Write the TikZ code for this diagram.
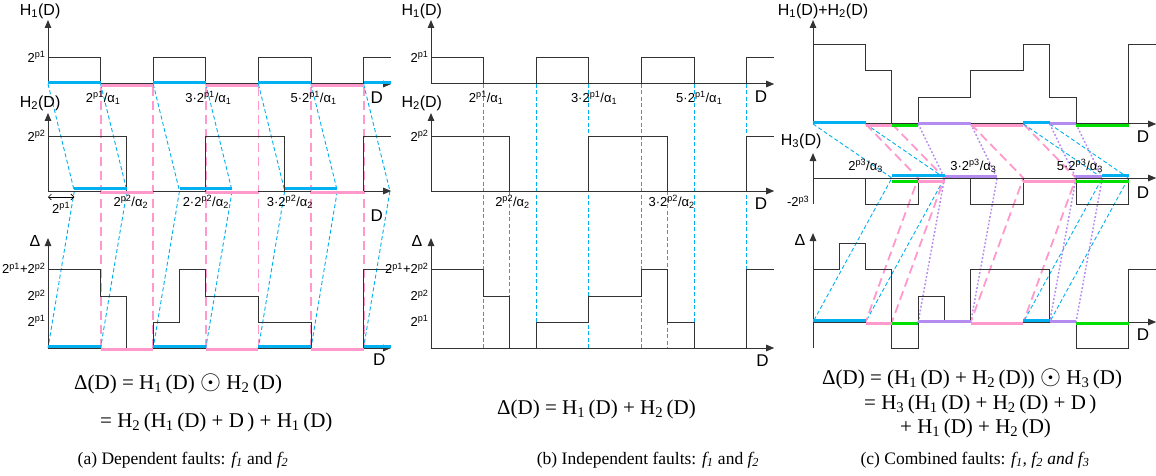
\documentclass[tikz,border=0pt]{standalone}
\usepackage{fontspec}
\setmainfont{Liberation Serif}
\newfontfamily\plotfont{Liberation Sans}
\usepackage{tikz}
\usetikzlibrary{arrows.meta}
\definecolor{cyanseg}{HTML}{00B0F0}
\definecolor{pinkseg}{HTML}{FF99CC}
\definecolor{greenseg}{HTML}{00E000}
\definecolor{purpseg}{HTML}{B48CF0}
\definecolor{inkline}{HTML}{333333}
\newcommand{\Hsub}[1]{H\textsubscript{#1}}
\newcommand{\dotop}{\scalebox{1.3}{$\odot$}}
\tikzset{
  axisline/.style={inkline, line width=1pt, -{Triangle[length=8pt,width=6.5pt]}},
  wave/.style={inkline, line width=1pt},
  segcy/.style={cyanseg, line width=3pt, yshift=1.5pt},
  segpk/.style={pinkseg, line width=3pt, yshift=-1.5pt},
  seggr/.style={greenseg, line width=3pt, yshift=-1.5pt},
  segpp/.style={purpseg, line width=3pt, yshift=0.5pt},
  cydash/.style={cyanseg, line width=0.9pt, dash pattern=on 4pt off 2.5pt},
  pkdash/.style={pinkseg, line width=1.8pt, dash pattern=on 9pt off 5pt},
  ppdot/.style={purpseg, line width=1.5pt, dash pattern=on 1.8pt off 2pt},
  nolink/.style={draw=none},
  axname/.style={font=\plotfont\fontsize{16}{16}\selectfont},
  dname/.style={font=\plotfont\fontsize{17}{17}\selectfont},
  ticklbl/.style={font=\plotfont\fontsize{13}{13}\selectfont, anchor=east, inner sep=1pt},
  steplbl/.style={font=\plotfont\fontsize{13}{13}\selectfont, inner sep=1pt},
  eqn/.style={font=\fontsize{21}{21}\selectfont, anchor=west, inner sep=0pt},
  capt/.style={font=\fontsize{17.5}{17.5}\selectfont, inner sep=0pt}
}
\begin{document}
\begin{tikzpicture}[x=1pt, y=-1pt]
\useasboundingbox (0,0) rectangle (1156,476);

% (a) dependent faults
\begin{scope}[shift={(48,0)}, x=26.3pt]
  \foreach \a in {2,4,...,12} \draw[pkdash] (\a,87) -- (\a,348);
  \foreach \a in {0,2,...,12} \draw[cydash] (\a,84) -- (\a+1,191) -- (\a,348);
  \foreach \b/\t in {84/20,191/113,348/238} {
    \draw[axisline] (0,\b) -- (0,\t);
    \draw[axisline] (0,\b) -- (13.05,\b);
  }
  \foreach \a in {0,4,8} \draw[wave] (\a,84) |- (\a+2,58) -- (\a+2,84);
  \draw[wave] (12,84) |- (13.05,58);
  \foreach \a in {0,6} \draw[wave] (\a,191) |- (\a+3,137) -- (\a+3,191);
  \draw[wave] (12,191) |- (13.05,137);
  \draw[wave] (0,269) -- (2,269) -- (2,296) -- (3,296) -- (3,348) -- (4,348) -- (4,322) -- (5,322)
    -- (5,269) -- (6,269) -- (6,296) -- (8,296) -- (8,322) -- (10,322) -- (10,348) -- (12,348)
    -- (12,269) -- (13.05,269);
  \foreach \a in {0,4,8} {
    \draw[segcy] (\a,84) -- (\a+2,84);
    \draw[segcy] (\a,348) -- (\a+2,348);
    \draw[segpk] (\a+2,84) -- (\a+4,84);
    \draw[segpk] (\a+2,348) -- (\a+4,348);
  }
  \draw[segcy] (12,84) -- (13.05,84);
  \draw[segcy] (12,348) -- (13.05,348);
  \foreach \a in {1,5,9} \draw[segcy] (\a,190) -- (\a+2,190);
  \foreach \a in {2,6,10} \draw[segpk] (\a,191) -- (\a+2,191);
  \draw[{Straight Barb[length=3pt,width=6pt]}-{Straight Barb[length=3pt,width=6pt]}, line width=0.6pt]
    (0,197) -- (1,197);
  \node[steplbl] (wa) at (0.5,208) {2\textsuperscript{p1}};
  \node[axname] (h1a) at (-0.3,11) {\Hsub{1}(D)};
  \node[axname] (h2a) at (-0.3,103) {\Hsub{2}(D)};
  \node[axname] (dla) at (-0.5,241) {Δ};
  \node[ticklbl] (p1a) at (-0.05,57) {2\textsuperscript{p1}};
  \node[ticklbl] (p2a) at (-0.05,136) {2\textsuperscript{p2}};
  \node[ticklbl] (s12a) at (-0.05,268) {2\textsuperscript{p1}+2\textsuperscript{p2}};
  \node[ticklbl] (q2a) at (-0.05,295) {2\textsuperscript{p2}};
  \node[ticklbl] (q1a) at (-0.05,321) {2\textsuperscript{p1}};
  \node[steplbl] (a1a) at (2.1,98) {2\textsuperscript{p1}/α\textsubscript{1}};
  \node[steplbl] (a3a) at (6.1,98) {3·2\textsuperscript{p1}/α\textsubscript{1}};
  \node[steplbl] (a5a) at (10.1,98) {5·2\textsuperscript{p1}/α\textsubscript{1}};
  \node[steplbl] (b1a) at (3.15,202) {2\textsuperscript{p2}/α\textsubscript{2}};
  \node[steplbl] (b2a) at (6.0,202) {2·2\textsuperscript{p2}/α\textsubscript{2}};
  \node[steplbl] (b3a) at (9.2,202) {3·2\textsuperscript{p2}/α\textsubscript{2}};
  \node[dname] (d1a) at (12.5,98) {D};
  \node[dname] (d2a) at (12.5,216) {D};
  \node[dname] (d3a) at (12.6,360) {D};
\end{scope}

% (b) independent faults
\begin{scope}[shift={(431,0)}, x=26.3pt]
  \foreach \a in {2,4,...,12} \draw[cydash] (\a,84) -- (\a,348);
  \foreach \a in {3,9} \draw[cydash] (\a,191) -- (\a,348);
  \foreach \b/\t in {84/20,191/113,348/238} {
    \draw[axisline] (0,\b) -- (0,\t);
    \draw[axisline] (0,\b) -- (13.05,\b);
  }
  \foreach \a in {0,4,8} \draw[wave] (\a,84) |- (\a+2,58) -- (\a+2,84);
  \draw[wave] (12,84) |- (13.05,58);
  \foreach \a in {0,6} \draw[wave] (\a,191) |- (\a+3,137) -- (\a+3,191);
  \draw[wave] (12,191) |- (13.05,137);
  \draw[wave] (0,269) -- (2,269) -- (2,296) -- (3,296) -- (3,348) -- (4,348) -- (4,322) -- (6,322)
    -- (6,296) -- (8,296) -- (8,269) -- (9,269) -- (9,322) -- (10,322) -- (10,348) -- (12,348)
    -- (12,269) -- (13.05,269);
  \node[axname] (h1b) at (-0.35,11) {\Hsub{1}(D)};
  \node[axname] (h2b) at (-0.35,103) {\Hsub{2}(D)};
  \node[axname] (dlb) at (-0.53,241) {Δ};
  \node[ticklbl] (p1b) at (-0.05,57) {2\textsuperscript{p1}};
  \node[ticklbl] (p2b) at (-0.05,136) {2\textsuperscript{p2}};
  \node[ticklbl] (s12b) at (-0.05,268) {2\textsuperscript{p1}+2\textsuperscript{p2}};
  \node[ticklbl] (q2b) at (-0.05,295) {2\textsuperscript{p2}};
  \node[ticklbl] (q1b) at (-0.05,321) {2\textsuperscript{p1}};
  \node[steplbl] (a1b) at (2.1,98) {2\textsuperscript{p1}/α\textsubscript{1}};
  \node[steplbl] (a3b) at (6.2,98) {3·2\textsuperscript{p1}/α\textsubscript{1}};
  \node[steplbl] (a5b) at (10.2,98) {5·2\textsuperscript{p1}/α\textsubscript{1}};
  \node[steplbl] (b1b) at (3.1,202) {2\textsuperscript{p2}/α\textsubscript{2}};
  \node[steplbl] (b3b) at (9.15,202) {3·2\textsuperscript{p2}/α\textsubscript{2}};
  \node[dname] (d1b) at (12.55,97) {D};
  \node[dname] (d2b) at (12.55,204) {D};
  \node[dname] (d3b) at (12.6,361) {D};
\end{scope}

% (c) combined faults
\begin{scope}[shift={(813,0)}, x=26.3pt]
  \foreach \c/\l/\a/\b/\s in {segcy/cydash/0/2/3, segpk/pkdash/2/3/2, seggr/nolink/3/4/0,
      segpp/ppdot/4/6/1, segpk/pkdash/6/8/2, segcy/cydash/8/9/3, segpp/ppdot/9/10/1,
      seggr/nolink/10/12/0} {
    \draw[\l] (\a,124) -- (\a+\s,178) -- (\a,322);
    \draw[\l] (\b,124) -- (\b+\s,178) -- (\b,322);
  }
  \draw[axisline] (0,124) -- (0,20);
  \draw[axisline] (0,124) -- (13.05,124);
  \draw[axisline] (0,204) -- (0,153);
  \draw[axisline] (0,178) -- (13.05,178);
  \draw[axisline] (0,348) -- (0,233);
  \draw[axisline] (0,322) -- (13.05,322);
  \draw[wave] (0,45) -- (2,45) -- (2,71) -- (3,71) -- (3,124) -- (4,124) -- (4,98) -- (6,98)
    -- (6,71) -- (8,71) -- (8,45) -- (9,45) -- (9,98) -- (10,98) -- (10,124) -- (12,124)
    -- (12,45) -- (13.05,45);
  \foreach \a in {2,6,10} \draw[wave] (\a,178) |- (\a+2,204) -- (\a+2,178);
  \draw[wave] (0,269) -- (1,269) -- (1,243) -- (2,243) -- (2,269) -- (3,269) -- (3,348) -- (4,348)
    -- (4,296) -- (5,296) -- (5,322) -- (6,322) -- (6,269) -- (9,269) -- (9,322) -- (10,322)
    -- (10,348) -- (12,348) -- (12,269) -- (13.05,269);
  \foreach \c/\a/\b/\s in {segcy/0/2/3, segpk/2/3/2, seggr/3/4/0, segpp/4/6/1, segpk/6/8/2,
      segcy/8/9/3, segpp/9/10/1, seggr/10/12/0} {
    \draw[\c] (\a,124) -- (\b,124);
    \draw[\c] (\a,322) -- (\b,322);
  }
  \foreach \c/\a/\b/\y in {seggr/3/4/180, segpk/4/5/180, segpk/8/10/180, seggr/10/12/180,
      segcy/3/5/177, segpp/5/7/177, segpp/10/11/177, segcy/11/12/177}
    \draw[\c] (\a,\y) -- (\b,\y);
  \node[axname] (h12c) at (0.38,11) {\Hsub{1}(D)+\Hsub{2}(D)};
  \node[axname] (h3c) at (-0.45,141) {\Hsub{3}(D)};
  \node[axname] (dlc) at (-0.5,240) {Δ};
  \node[ticklbl] (p3c) at (-0.1,201) {-2\textsuperscript{p3}};
  \node[steplbl] (a1c) at (2.0,166) {2\textsuperscript{p3}/α\textsubscript{3}};
  \node[steplbl] (a3c) at (6.1,166) {3·2\textsuperscript{p3}/α\textsubscript{3}};
  \node[steplbl] (a5c) at (10.15,166) {5·2\textsuperscript{p3}/α\textsubscript{3}};
  \node[dname] (d1c) at (12.55,137) {D};
  \node[dname] (d2c) at (12.55,193) {D};
  \node[dname] (d3c) at (12.55,335) {D};
\end{scope}

% formulas and captions
\node[eqn] (eqa1) at (74,384) {Δ(D) = \Hsub{1}\,(D) \dotop{} \Hsub{2}\,(D)};
\node[eqn] (eqa2) at (100,422) {= \Hsub{2}\,(\Hsub{1}\,(D) + D\,) + \Hsub{1}\,(D)};
\node[eqn] (eqb) at (497,409) {Δ(D) = \Hsub{1}\,(D) + \Hsub{2}\,(D)};
\node[eqn] (eqc1) at (822,379) {Δ(D) = (\Hsub{1}\,(D) + \Hsub{2}\,(D)) \dotop{} \Hsub{3}\,(D)};
\node[eqn] (eqc2) at (864,404) {= \Hsub{3}\,(\Hsub{1}\,(D) + \Hsub{2}\,(D) + D\,)};
\node[eqn] (eqc3) at (900,428) {+ \Hsub{1}\,(D) + \Hsub{2}\,(D)};
\node[capt] (capa) at (183,460) {(a) Dependent faults: \textit{f\textsubscript{1}} and \textit{f\textsubscript{2}}};
\node[capt] (capb) at (648,460) {(b) Independent faults: \textit{f\textsubscript{1}} and \textit{f\textsubscript{2}}};
\node[capt] (capc) at (975,460) {(c) Combined faults: \textit{f\textsubscript{1}, f\textsubscript{2} and f\textsubscript{3}}};
\end{tikzpicture}
\end{document}
